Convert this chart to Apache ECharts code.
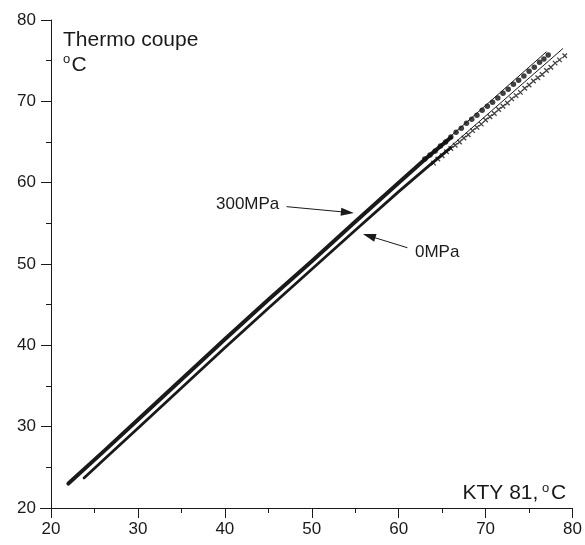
<!DOCTYPE html>
<html>
<head>
<meta charset="utf-8">
<script src="https://cdn.jsdelivr.net/npm/echarts@6/dist/echarts.min.js"></script>
<style>
html,body{margin:0;padding:0;background:#fff;}
#chart{width:585px;height:545px;}
</style>
</head>
<body>
<div id="chart"></div>
<script>
// ---- data ----
var xTicks = [20, 30, 40, 50, 60, 70, 80];
var yTicks = [20, 30, 40, 50, 60, 70, 80];

// 300 MPa: dense measured segment, sparse measured dots, straight guide line
var dense300 = [[22.0,23.0],[26,26.9],[30,30.85],[35,35.8],[40,40.75],[45,45.6],[50,50.35],[55,55.2],[60,60.0],[63,62.85],[66,65.55]];
var dots300 = [[63.0,62.9],[63.6,63.4],[64.2,63.9],[64.8,64.5],[65.4,65.0],[66.0,65.6],[66.6,66.2],[67.2,66.7],[67.8,67.3],[68.4,67.8],[69.0,68.3],[69.6,68.9],[70.2,69.4],[70.8,69.9],[71.4,70.4],[72.0,71.0],[72.6,71.5],[73.2,72.1],[73.8,72.6],[74.4,73.1],[75.0,73.7],[75.6,74.2],[76.2,74.8],[76.7,75.2],[77.2,75.7]];
var line300 = [[63.0,62.9],[77.0,76.1]];

// 0 MPa: dense measured segment, sparse measured crosses, straight guide line
var dense0 = [[23.8,23.7],[27,26.85],[30,29.8],[35,34.75],[40,39.7],[45,44.55],[50,49.35],[55,54.15],[60,58.9],[64,62.55],[66,64.3]];
var cross0 = [[64.0,62.4],[64.5,62.9],[65.0,63.3],[65.5,63.8],[66.0,64.2],[66.5,64.6],[67.0,65.0],[67.5,65.5],[68.0,65.9],[68.5,66.4],[69.0,66.8],[69.5,67.2],[70.0,67.7],[70.5,68.1],[71.0,68.5],[71.5,69.0],[72.0,69.4],[72.5,69.8],[73.0,70.3],[73.5,70.7],[74.0,71.1],[74.5,71.6],[75.0,72.0],[75.5,72.5],[76.0,72.9],[76.5,73.3],[77.0,73.8],[77.5,74.2],[78.0,74.7],[78.5,75.1],[79.1,75.6]];
var line0 = [[64.0,62.6],[78.9,76.5]];

// annotation arrows (tail -> head), in data units
var arrow300 = [[47.1,57.05],[54.1,56.35]];
var arrow0 = [[61.0,52.0],[56.6,53.45]];

var INK = '#1a1a1a';
var FONT = 'Liberation Sans, Arial, Helvetica, sans-serif';

var chart = echarts.init(document.getElementById('chart'), null, {renderer:'canvas'});

function axisCommon(isX){
  return {
    type:'value', min:20, max:80, interval:10,
    axisLine:{show:true, onZero:false, lineStyle:{color:INK, width:1}},
    axisTick:{show:true, inside:false, length:10, lineStyle:{color:INK, width:1}},
    minorTick:{show:true, splitNumber:2, length:5, lineStyle:{color:INK, width:1}},
    splitLine:{show:false},
    minorSplitLine:{show:false},
    axisLabel:{color:INK, fontSize:17, fontFamily:FONT, margin: isX ? 13 : 15,
      formatter:function(v){ return (isX ? xTicks : yTicks).indexOf(v) >= 0 ? String(v) : ''; }}
  };
}

var option = {
  animation:false,
  backgroundColor:'#fff',
  grid:{left:51, right:12, top:20, bottom:37, containLabel:false},
  xAxis: axisCommon(true),
  yAxis: axisCommon(false),
  series:[
    {type:'line', data:line300, symbol:'none', lineStyle:{color:INK, width:1}, z:2},
    {type:'line', data:dense300, symbol:'none', lineStyle:{color:INK, width:4, cap:'round', join:'round'}, z:3},
    {type:'scatter', data:dots300, symbol:'circle', symbolSize:5.5, itemStyle:{color:'#111'}, z:3},
    {type:'line', data:line0, symbol:'none', lineStyle:{color:INK, width:1}, z:2},
    {type:'line', data:dense0, symbol:'none', lineStyle:{color:INK, width:2.8, cap:'round', join:'round'}, z:3},
    {type:'scatter', data:cross0, symbol:'path://M0,0L10,10M10,0L0,10', symbolSize:4.5,
      itemStyle:{color:'none', borderColor:'#111', borderWidth:1.3}, z:3},
    {type:'line', data:[], symbol:'none',
      markLine:{silent:true, symbol:['none','triangle'], symbolSize:[8,13], label:{show:false},
        lineStyle:{color:INK, width:1, type:'solid'},
        emphasis:{disabled:true},
        data:[
          [{coord:arrow300[0]},{coord:arrow300[1]}],
          [{coord:arrow0[0]},{coord:arrow0[1]}]
        ]}}
  ],
  graphic:[
    {type:'line', shape:{x1:40, y1:508.5, x2:51, y2:508.5}, style:{stroke:INK, lineWidth:1}},
    {type:'text', left:63, top:29.3, style:{text:'Thermo coupe', font:'21px '+FONT, fill:INK}},
    {type:'text', left:63, top:52.5, style:{text:'o', font:'13px '+FONT, fill:INK}},
    {type:'text', left:71.5, top:54.3, style:{text:'C', font:'21px '+FONT, fill:INK}},
    {type:'text', left:462.5, top:482.3, style:{text:'KTY 81,', font:'21px '+FONT, fill:INK}},
    {type:'text', left:542, top:481.5, style:{text:'o', font:'13px '+FONT, fill:INK}},
    {type:'text', left:551, top:482.3, style:{text:'C', font:'21px '+FONT, fill:INK}},
    {type:'text', left:216, top:196, style:{text:'300MPa', font:'17px '+FONT, fill:INK}},
    {type:'text', left:415, top:244, style:{text:'0MPa', font:'17px '+FONT, fill:INK}}
  ]
};
chart.setOption(option);
</script>
</body>
</html>
